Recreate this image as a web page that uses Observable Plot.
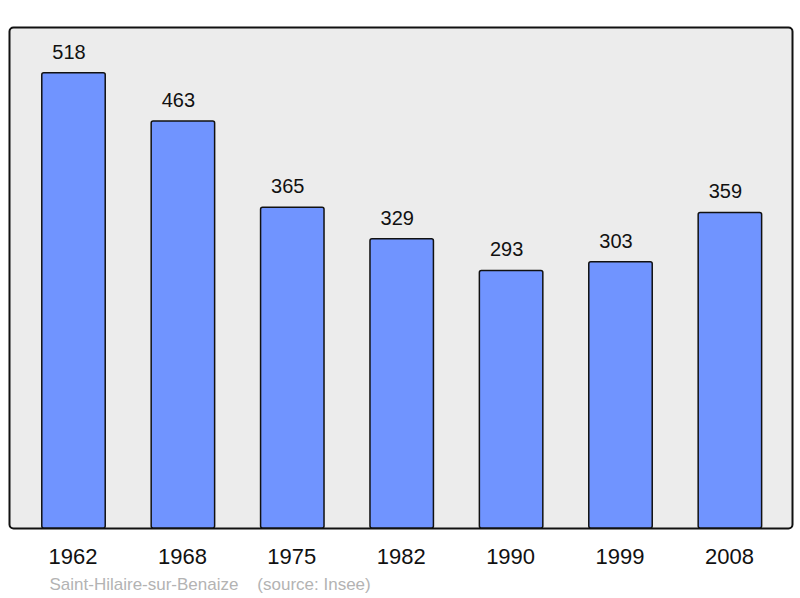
<!DOCTYPE html>
<html>
<head>
<meta charset="utf-8">
<script src="https://cdn.jsdelivr.net/npm/d3@7"></script>
<script src="https://cdn.jsdelivr.net/npm/@observablehq/plot@0.6"></script>
<style>
  html, body { margin: 0; padding: 0; background: #ffffff; }
  svg { display: block; }
</style>
</head>
<body>
<div id="chart"></div>
<script>
const years = ["1962", "1968", "1975", "1982", "1990", "1999", "2008"];
const population = [518, 463, 365, 329, 293, 303, 359];
const captionText = "Saint-Hilaire-sur-Benaize    (source: Insee)";

const data = years.map((y, i) => ({year: y, value: population[i]}));

const chart = Plot.plot({
  width: 800,
  height: 598,
  marginTop: 27,
  marginBottom: 70,
  marginLeft: 9,
  marginRight: 8,
  style: {fontFamily: "'Liberation Sans', Arial, sans-serif", background: "#ffffff"},
  x: {domain: years, range: [18.8, 784.6], paddingInner: 0.42, paddingOuter: 0.21, round: false, label: null},
  y: {domain: [0, 570], axis: null},
  marks: [
    Plot.frame({fill: "#ececec", stroke: "#111", strokeWidth: 2, rx: 4}),
    Plot.barY(data, {x: "year", y: "value", fill: "#7094ff", stroke: "#111", strokeWidth: 1.5, rx: 2}),
    Plot.text(data, {x: "year", y: "value", text: d => String(d.value), dx: -5, dy: -21, fontSize: 20, fill: "#111"}),
    Plot.axisX({tickSize: 0, tickPadding: 20, fontSize: 22, dx: -1, fill: "#111", label: null}),
    Plot.text([captionText], {frameAnchor: "bottom-left", text: d => d, dx: 40, dy: 56, fontSize: 17, fill: "#b3b3b3", textAnchor: "start", lineAnchor: "middle"})
  ]
});
document.getElementById("chart").appendChild(chart);
</script>
</body>
</html>
